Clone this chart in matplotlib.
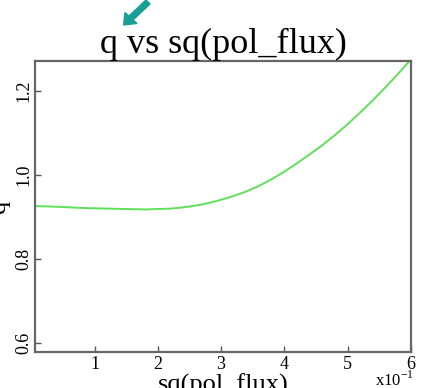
import numpy as np
import matplotlib
matplotlib.use('Agg')
import matplotlib.pyplot as plt

## data (sq(pol_flux), q)
sq_pol_flux = [0.006, 0.03, 0.06, 0.09, 0.12, 0.15, 0.18, 0.20, 0.22, 0.24,
               0.255, 0.27, 0.285, 0.30, 0.32, 0.34, 0.36, 0.38, 0.40, 0.42,
               0.44, 0.46, 0.48, 0.50, 0.52, 0.54, 0.56, 0.58, 0.60]
q = [0.926, 0.925, 0.923, 0.921, 0.920, 0.919, 0.918, 0.919, 0.920, 0.923,
     0.926, 0.930, 0.935, 0.941, 0.950, 0.961, 0.974, 0.990, 1.008, 1.028,
     1.049, 1.071, 1.095, 1.121, 1.149, 1.178, 1.209, 1.241, 1.275]

xticks = [0.1, 0.2, 0.3, 0.4, 0.5, 0.6]
xticklabels = ['1', '2', '3', '4', '5', '6']
yticks = [0.6, 0.8, 1.0, 1.2]
yticklabels = ['0.6', '0.8', '1.0', '1.2']

plt.rcParams['font.family'] = ['Liberation Serif', 'DejaVu Serif']
plt.rcParams['mathtext.fontset'] = 'custom'
plt.rcParams['mathtext.rm'] = 'Liberation Serif'

fig = plt.figure(figsize=(4.21, 3.88), dpi=100)
ax = fig.add_axes([35/421, 36/388, 376/421, 291/388])

ax.plot(sq_pol_flux, q, color='#5fe05a', lw=1.4)

ax.set_xlim(0.006, 0.6)
ax.set_ylim(0.579, 1.271)
ax.set_xticks(xticks)
ax.set_xticklabels(xticklabels)
ax.set_yticks(yticks)
ax.set_yticklabels(yticklabels, rotation=90, va='center')
ax.tick_params(direction='in', length=4, width=1, colors='#555555', labelcolor='black',
               labelsize=13, pad=3)
ax.tick_params(axis='y', pad=2)
for s in ax.spines.values():
    s.set_color('#666666')
    s.set_linewidth(1.6)

ax.set_title('q vs sq(pol_flux)', fontsize=26, pad=4)
ax.set_xlabel('sq(pol_flux)', fontsize=19, labelpad=0)
ax.set_ylabel('q', fontsize=19, labelpad=4)

fig.text(375/421, 1 - 386/388, r'x10$^{\mathrm{-1}}$', fontsize=12)

# teal pointer arrow at the top
fig.patches.append(matplotlib.patches.FancyArrow(
    148/421, 1 - 2/388, -17/421, -16/388, width=0.014, head_width=0.04,
    head_length=0.025, color='#17a098', transform=fig.transFigure, figure=fig))

fig.savefig('out.png', dpi=100)
